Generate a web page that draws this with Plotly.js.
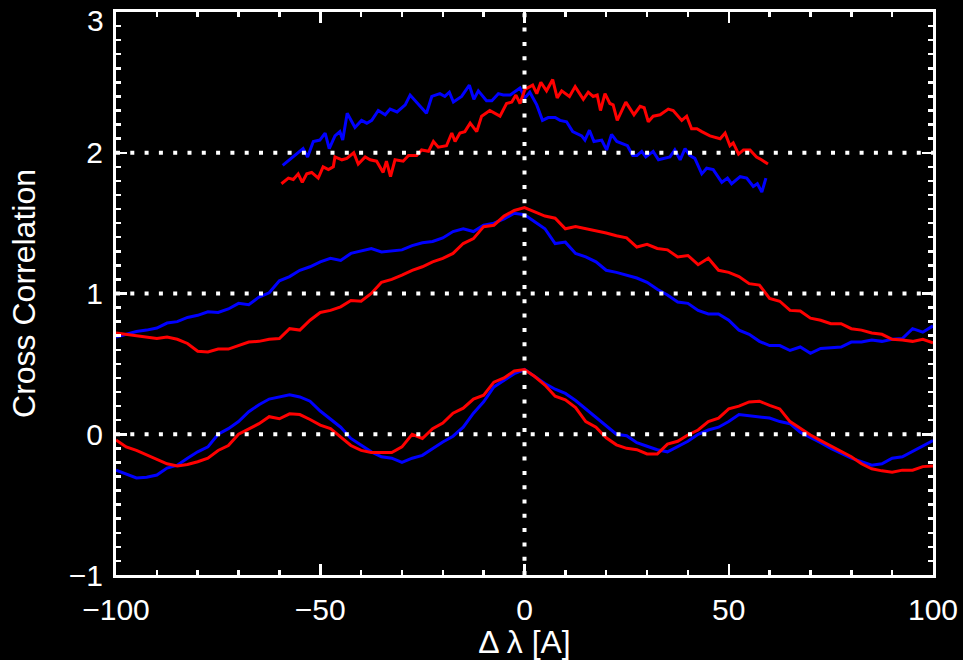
<!DOCTYPE html>
<html>
<head>
<meta charset="utf-8">
<script src="https://cdn.plot.ly/plotly-3.0.1.min.js"></script>
<style>html,body{margin:0;padding:0;background:#000;}</style>
</head>
<body>
<div id="chart" style="width:963px;height:660px;"></div>
<script>
// ---- data ----
// full-range lag grid (Δλ, Å) for the middle and bottom pairs
const lagFull = [-100,-97.5,-95,-92.5,-90,-87.5,-85,-82.5,-80,-77.5,-75,-72.5,-70,-67.5,-65,-62.5,-60,-57.5,-55,-52.5,-50,-47.5,-45,-42.5,-40,-37.5,-35,-32.5,-30,-27.5,-25,-22.5,-20,-17.5,-15,-12.5,-10,-7.5,-5,-2.5,0,2.5,5,7.5,10,12.5,15,17.5,20,22.5,25,27.5,30,32.5,35,37.5,40,42.5,45,47.5,50,52.5,55,57.5,60,62.5,65,67.5,70,72.5,75,77.5,80,82.5,85,87.5,90,92.5,95,97.5,100];

const midBlue = [0.69,0.71,0.73,0.74,0.755,0.79,0.80,0.83,0.845,0.87,0.865,0.89,0.93,0.92,0.975,1.005,1.09,1.12,1.165,1.19,1.225,1.25,1.235,1.285,1.30,1.32,1.295,1.30,1.31,1.34,1.36,1.37,1.395,1.44,1.46,1.44,1.485,1.50,1.53,1.57,1.56,1.51,1.46,1.355,1.365,1.285,1.26,1.225,1.165,1.15,1.13,1.11,1.08,1.03,0.99,0.94,0.93,0.88,0.855,0.855,0.81,0.74,0.71,0.66,0.63,0.63,0.595,0.62,0.575,0.61,0.615,0.62,0.655,0.655,0.67,0.66,0.675,0.68,0.75,0.725,0.77];

const midRed = [0.72,0.71,0.70,0.69,0.68,0.69,0.675,0.645,0.59,0.585,0.605,0.605,0.63,0.655,0.66,0.675,0.68,0.75,0.74,0.81,0.865,0.88,0.905,0.95,0.945,1.0,1.08,1.10,1.13,1.165,1.19,1.225,1.25,1.285,1.355,1.39,1.475,1.485,1.55,1.59,1.61,1.58,1.55,1.535,1.46,1.475,1.46,1.45,1.43,1.41,1.395,1.33,1.35,1.32,1.31,1.26,1.27,1.205,1.25,1.165,1.15,1.12,1.07,1.06,0.965,0.945,0.88,0.875,0.825,0.81,0.785,0.785,0.75,0.74,0.72,0.71,0.675,0.67,0.66,0.675,0.65];

const lowBlue = [-0.255,-0.28,-0.31,-0.305,-0.29,-0.24,-0.22,-0.17,-0.125,-0.09,0.0,0.04,0.09,0.16,0.21,0.25,0.265,0.28,0.265,0.235,0.165,0.11,0.05,-0.03,-0.08,-0.125,-0.16,-0.17,-0.20,-0.17,-0.15,-0.10,-0.055,-0.014,0.05,0.15,0.23,0.336,0.384,0.43,0.46,0.41,0.36,0.32,0.29,0.24,0.18,0.12,0.06,0.0,-0.01,-0.06,-0.085,-0.11,-0.125,-0.085,-0.05,0.0,0.03,0.05,0.09,0.14,0.13,0.125,0.115,0.09,0.075,0.015,-0.02,-0.06,-0.10,-0.135,-0.17,-0.195,-0.22,-0.21,-0.17,-0.16,-0.12,-0.085,-0.045];

const lowRed = [-0.04,-0.09,-0.115,-0.145,-0.18,-0.21,-0.225,-0.215,-0.195,-0.17,-0.115,-0.08,0.0,0.04,0.075,0.125,0.11,0.145,0.14,0.105,0.065,0.04,-0.02,-0.08,-0.115,-0.13,-0.13,-0.13,-0.09,0.0,-0.03,0.04,0.08,0.15,0.185,0.25,0.277,0.37,0.40,0.45,0.46,0.41,0.35,0.27,0.245,0.19,0.09,0.05,-0.025,-0.075,-0.10,-0.11,-0.14,-0.14,-0.07,-0.05,-0.005,0.03,0.09,0.115,0.18,0.20,0.23,0.235,0.205,0.18,0.09,0.04,-0.005,-0.045,-0.085,-0.125,-0.16,-0.21,-0.245,-0.26,-0.27,-0.255,-0.255,-0.23,-0.225];

// top pair, limited range (irregular sample positions as read)
const topBlueLag = [-59.2,-57.5,-54.2,-53.1,-51.7,-50.1,-48.8,-47.8,-46.4,-45.2,-44.5,-43.4,-41.5,-39.9,-38.6,-37.4,-35.8,-34.1,-32.9,-31.2,-29.2,-28.0,-26.4,-24.0,-22.7,-20.7,-19.5,-18.4,-17.4,-15.4,-13.5,-12.4,-11.3,-9.3,-8.0,-6.4,-5.2,-3.5,-1.1,0.1,1.3,3.0,4.4,5.8,7.5,8.7,10.3,11.8,14.0,14.8,15.9,17.0,18.9,20.1,21.3,22.6,25.2,26.5,27.5,28.7,29.7,31.5,32.8,34.4,35.6,36.8,38.1,39.3,40.5,41.7,43.4,44.6,46.2,48.3,49.7,50.7,52.8,54.4,56.0,57.0,58.1,59.1];
const topBlue = [1.91,1.95,2.03,1.97,2.08,2.09,2.14,2.03,2.12,2.15,2.09,2.28,2.18,2.23,2.21,2.23,2.30,2.27,2.31,2.29,2.34,2.41,2.36,2.28,2.40,2.42,2.40,2.43,2.36,2.40,2.48,2.38,2.44,2.37,2.37,2.42,2.41,2.41,2.46,2.39,2.43,2.34,2.23,2.25,2.25,2.23,2.22,2.15,2.12,2.09,2.16,2.08,2.09,2.02,2.13,2.08,2.05,1.98,1.98,2.01,1.97,2.01,1.95,1.96,1.97,2.02,1.95,2.03,1.98,1.96,1.85,1.89,1.88,1.79,1.82,1.78,1.83,1.82,1.76,1.78,1.72,1.82];

const topRedLag = [-59.5,-57.8,-56.6,-55.4,-54.4,-53.3,-52.1,-50.5,-49.3,-48.0,-46.8,-46.4,-44.7,-43.5,-41.8,-40.7,-39.0,-37.8,-36.2,-34.6,-33.8,-32.8,-31.7,-29.7,-28.4,-26.4,-25.2,-23.5,-22.3,-21.1,-19.1,-17.8,-17.0,-15.8,-14.6,-13.3,-11.7,-10.5,-8.5,-6.0,-4.4,-3.1,-2.1,-1.1,0.1,2.0,3.0,4.0,5.4,6.9,8.0,9.1,11.0,12.4,14.4,15.6,16.8,17.8,18.6,19.7,20.9,21.7,22.7,24.8,26.8,28.3,29.3,30.3,31.5,33.2,35.2,36.4,38.5,39.7,40.9,42.2,43.4,45.4,47.9,49.1,50.3,51.1,52.4,53.6,55.2,56.8,58.0,59.6];
const topRed = [1.78,1.82,1.81,1.85,1.79,1.85,1.86,1.82,1.90,1.88,1.90,1.97,1.95,1.96,2.00,1.92,1.97,1.95,1.94,1.86,1.94,1.83,1.95,1.94,1.98,1.98,2.02,2.01,2.08,2.04,2.05,2.14,2.08,2.14,2.15,2.21,2.15,2.26,2.30,2.26,2.35,2.36,2.41,2.35,2.45,2.48,2.42,2.50,2.44,2.52,2.39,2.44,2.40,2.47,2.38,2.43,2.40,2.41,2.30,2.42,2.35,2.34,2.23,2.36,2.27,2.33,2.32,2.22,2.26,2.27,2.31,2.30,2.23,2.26,2.17,2.17,2.15,2.12,2.10,2.14,2.05,2.07,1.99,2.02,2.02,1.97,1.95,1.92];

// axis ticks and dotted reference lines
const yTickVals = [-1, 0, 1, 2, 3];
const yTickText = ['\u22121', '0', '1', '2', ''];   // the "3" is drawn just inside the top edge, as in the reference
const yTopLabel = '3';
const refLevels = [0, 1, 2];
const refLags = [0];

const BLUE = '#0000ff', RED = '#ff0000';
function line(x, y, c) {
  return {x: x, y: y, type: 'scatter', mode: 'lines', line: {color: c, width: 3}, hoverinfo: 'skip'};
}
const traces = [
  line(lagFull, lowBlue, BLUE), line(lagFull, lowRed, RED),
  line(lagFull, midBlue, BLUE), line(lagFull, midRed, RED),
  line(topBlueLag, topBlue, BLUE), line(topRedLag, topRed, RED)
];

const dotted = {color: 'white', width: 4, dash: '4px,10.3px'};
const shapes = [];
refLevels.forEach(v => shapes.push({type: 'line', xref: 'x', yref: 'y', x0: -100, x1: 100, y0: v, y1: v, line: dotted, layer: 'above'}));
refLags.forEach(v => shapes.push({type: 'line', xref: 'x', yref: 'y', x0: v, x1: v, y0: -1, y1: 3, line: dotted, layer: 'above'}));

const axisCommon = {
  ticks: 'inside', ticklen: 11, tickwidth: 2.5, tickcolor: 'white',
  showline: true, linecolor: 'white', linewidth: 3, mirror: 'allticks',
  showgrid: false, zeroline: false, tickfont: {size: 30, color: 'white'},
  ticklabeloverflow: 'allow'
};

const layout = {
  width: 963, height: 660,
  margin: {l: 116, r: 30, t: 12, b: 85, pad: 0},
  paper_bgcolor: '#000', plot_bgcolor: '#000',
  font: {family: '"Liberation Sans", Arial, Helvetica, sans-serif', color: 'white', size: 30},
  showlegend: false,
  xaxis: Object.assign({}, axisCommon, {
    range: [-100, 100], tickmode: 'linear', tick0: -100, dtick: 50,
    minor: {tick0: -100, dtick: 10, ticks: 'inside', ticklen: 5, tickwidth: 2.5, tickcolor: 'white', showgrid: false},
    ticklabelstandoff: 6,
    title: {text: 'Δ λ [A]', font: {size: 32, color: 'white'}, standoff: 6}
  }),
  yaxis: Object.assign({}, axisCommon, {
    range: [-1, 3], tickmode: 'array', tickvals: yTickVals, ticktext: yTickText,
    minor: {tick0: -1, dtick: 0.1, ticks: 'inside', ticklen: 5, tickwidth: 2.5, tickcolor: 'white', showgrid: false},
    ticklabelstandoff: 4,
    title: {text: 'Cross Correlation', font: {size: 32, color: 'white'}, standoff: 24}
  }),
  annotations: [{
    xref: 'paper', x: 0, xanchor: 'right', xshift: -10,
    yref: 'y', y: yTickVals[yTickVals.length - 1], yanchor: 'top', yshift: 10,
    text: yTopLabel, showarrow: false, font: {size: 30, color: 'white'}
  }],
  shapes: shapes
};

Plotly.newPlot('chart', traces, layout, {staticPlot: true, displayModeBar: false});
</script>
</body>
</html>
